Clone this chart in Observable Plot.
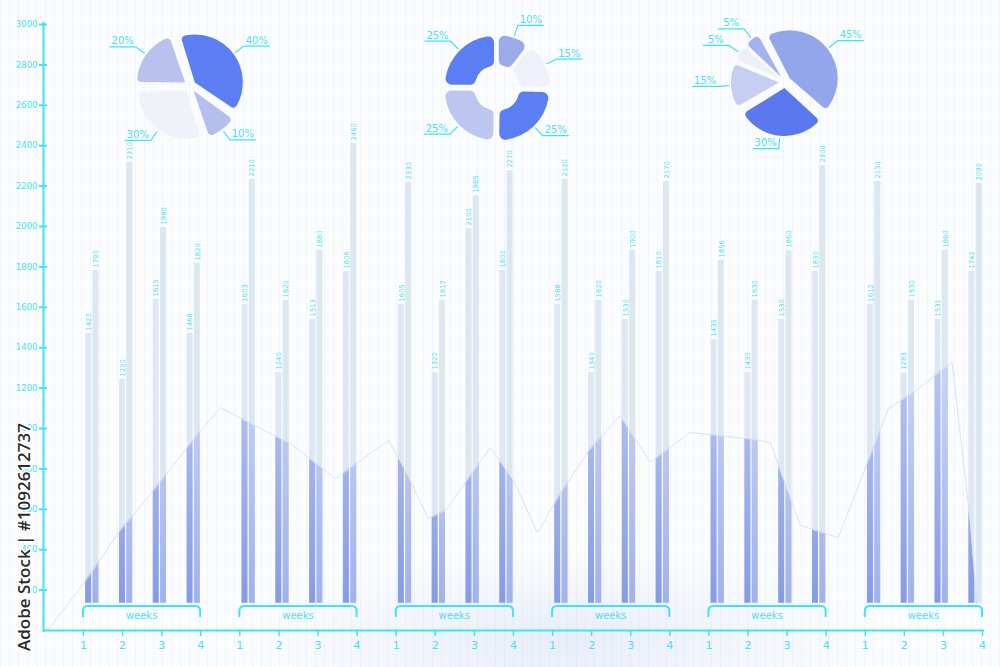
<!DOCTYPE html>
<html><head><meta charset="utf-8">
<script src="https://cdn.jsdelivr.net/npm/d3@7"></script>
<script src="https://cdn.jsdelivr.net/npm/@observablehq/plot@0.6"></script>
<style>
html,body{margin:0;padding:0;background:#fcfdfe;}
#chart{position:relative;width:1000px;height:667px;overflow:hidden;
  background-color:#fcfdfe;
  background-image:
    radial-gradient(ellipse 320px 90px at 560px 640px, rgba(196,208,240,0.35), rgba(255,255,255,0) 100%),
    repeating-linear-gradient(90deg, rgba(205,213,232,0.20) 0 1px, rgba(255,255,255,0) 1px 9px),
    repeating-linear-gradient(0deg, rgba(214,222,238,0.08) 0 1px, rgba(255,255,255,0) 1px 3px);
}
#chart svg{position:absolute;left:0;top:0;}
</style></head><body><div id="chart"></div>
<script>
// ---------------- data ----------------
const groups = ["G1","G2","G3","G4","G5","G6"];
const weekTicks = ["1","2","3","4"];
const yTicks = [200,400,600,800,1000,1200,1400,1600,1800,2000,2200,2400,2600,2800,3000];
// bar heights (two bars per week, 4 weeks per group)
const barHeights = [
  [1470,1782,1243,2317,1639,1995,1470,1817],
  [1614,2233,1277,1634,1540,1881,1777,2411],
  [1614,2218,1277,1634,1990,2153,1782,2277],
  [1614,2233,1277,1634,1540,1881,1777,2223],
  [1441,1832,1277,1634,1540,1881,1777,2302],
  [1614,2223,1277,1634,1540,1881,1777,2213]
];
// printed value labels above the bars
const barLabels = [
  ["1420","1790","1220","2310","1615","1980","1468","1820"],
  ["1603","2210","1240","1620","1513","1880","1806","2460"],
  ["1605","2330","1320","1617","2100","1985","1800","2270"],
  ["1588","2120","1340","1620","1530","1900","1810","2170"],
  ["1435","1856","1430","1630","1530","1860","1830","2300"],
  ["1612","2130","1283","1630","1531","1880","1742","2090"]
];
// background wave (x in week-slot units, y in axis units)
const waveX = [-0.92,0.10,0.90,1.79,2.94,3.50,4.27,5.29,6.45,7.80,8.24,8.82,9.26,10.41,11.00,11.61,12.28,12.89,13.73,14.50,15.52,17.14,17.57,18.34,19.31,19.95,20.59,21.23,22.22,22.69,22.86];
const waveY = [0,257,485,693,975,1104,1025,926,752,941,792,554,594,906,743,485,703,881,1064,832,980,946,931,520,460,777,1099,1178,1327,530,134];
// pies
const pie1Values = [40,10,30,20];
const pie1Labels = ["40%","10%","30%","20%"];
const pie2Values = [10,15,25,25,25];
const pie2Labels = ["10%","15%","25%","25%","25%"];
const pie3Values = [45,30,15,5,5];
const pie3Labels = ["45%","30%","15%","5%","5%"];

// ---------------- styles/layout ----------------
const cyan = "#41e3f0", textCyan = "#4cdeee";
const FONT = "DejaVu Sans";
const X0 = -1.023, X1 = 23.05, BASE = 135;

const bars = [];
groups.forEach((g, gi) => {
  for (let i = 0; i < 8; i++) {
    const p = Math.floor(i / 2), side = i % 2;
    const c = gi * 4 + 0.225 + p * 0.865;
    const x1 = side ? c + 0.017 : c - 0.17, x2 = side ? c + 0.17 : c - 0.017;
    bars.push({group: g, side, value: barHeights[gi][i], label: barLabels[gi][i], x1, x2, xc: (x1 + x2) / 2});
  }
});
const wave = waveX.map((x, i) => ({x, y: waveY[i]}));
const slots = d3.range(groups.length * weekTicks.length);

const chart = Plot.plot({
  width: 1000, height: 667,
  marginLeft: 43, marginRight: 16, marginTop: 24, marginBottom: 37,
  x: {domain: [X0, X1], axis: null},
  y: {domain: [0, 3000], axis: null},
  style: {background: "transparent", fontFamily: FONT, color: cyan, overflow: "visible"},
  marks: [
    Plot.rect(bars, {x1: "x1", x2: "x2", y1: BASE, y2: "value", fill: d => d.side ? "#dae5ee" : "#dde4f3", fillOpacity: 0.92}),
    Plot.rect(bars, {x1: "x1", x2: "x2", y1: BASE, y2: "value", fill: d => d.side ? "url(#gR)" : "url(#gL)"}),
    Plot.areaY(wave, {x: "x", y: "y", fill: "#ffffff", fillOpacity: 0}),
    Plot.line(wave, {x: "x", y: "y", stroke: "#dae1f4", strokeWidth: 1}),
    Plot.text(bars, {x: "xc", y: "value", text: "label", rotate: -90, textAnchor: "start", dy: -3,
      fontSize: 6.8, fill: textCyan}),
    Plot.ruleX([X0], {stroke: cyan, strokeWidth: 2, insetTop: -2, insetBottom: -2}),
    Plot.ruleY([0], {stroke: cyan, strokeWidth: 2}),
    Plot.axisY(yTicks, {tickSize: 8, tickPadding: 2, dx: 4, color: cyan, strokeWidth: 2,
      fontSize: 8.5, tickFormat: d => String(d), label: null}),
    Plot.axisX(slots, {tickSize: 6, tickPadding: 5, color: cyan, strokeWidth: 1.5,
      fontSize: 11, tickFormat: d => weekTicks[d % 4], label: null})
  ]
});
document.getElementById("chart").appendChild(chart);

// ---------------- post-processing (gradients, clip, brackets, pies) ----------------
const svg = d3.select(chart);
const xs = chart.scale("x"), ys = chart.scale("y");
const defs = svg.insert("defs", ":first-child");
function grad(id, c0, c1) {
  const g = defs.append("linearGradient").attr("id", id).attr("gradientUnits", "userSpaceOnUse")
    .attr("x1", 0).attr("x2", 0).attr("y1", ys.apply(1350)).attr("y2", ys.apply(BASE));
  g.append("stop").attr("offset", 0).attr("stop-color", c0);
  g.append("stop").attr("offset", 1).attr("stop-color", c1);
}
grad("gL", "#b9c7f2", "#849be6");
grad("gR", "#cad4f4", "#9fb2eb");

const areaPath = svg.select('g[aria-label="area"] path').attr("d");
defs.append("clipPath").attr("id", "waveClip").append("path").attr("d", areaPath);
const rectGroups = svg.selectAll('g[aria-label="rect"]').nodes();
d3.select(rectGroups[1]).attr("clip-path", "url(#waveClip)");

// week brackets
const y0px = ys.apply(0);
const br = svg.append("g");
groups.forEach((g, gi) => {
  const a = xs.apply(gi * 4), b = xs.apply(gi * 4 + 3);
  const yt = y0px - 24, yb = y0px - 13, r = 5;
  br.append("path")
    .attr("d", `M${a},${yb} L${a},${yt + r} Q${a},${yt} ${a + r},${yt} L${b - r},${yt} Q${b},${yt} ${b},${yt + r} L${b},${yb}`)
    .attr("fill", "none").attr("stroke", cyan).attr("stroke-width", 2);
  br.append("text").attr("x", (a + b) / 2).attr("y", y0px - 14)
    .attr("text-anchor", "middle").attr("dominant-baseline", "middle")
    .attr("font-family", FONT).attr("font-size", 10).attr("fill", textCyan).text("weeks");
});

function drawPie({cx, cy, r, inner, explode, start, values, labels, colors, pad}) {
  const pie = d3.pie().sort(null).value(d => d)
    .startAngle(start * Math.PI / 180).endAngle(start * Math.PI / 180 + 2 * Math.PI).padAngle(pad);
  const arc = d3.arc().innerRadius(inner).outerRadius(r).cornerRadius(inner ? 6 : 4);
  const g = svg.append("g");
  pie(values).forEach((a, i) => {
    const mid = (a.startAngle + a.endAngle) / 2;
    const sx = Math.sin(mid), sy = -Math.cos(mid);
    g.append("path").attr("d", arc(a))
      .attr("transform", `translate(${cx + explode * sx},${cy + explode * sy})`)
      .attr("fill", colors[i]);
    const p0 = [cx + (r + explode + 2) * sx, cy + (r + explode + 2) * sy];
    const p1 = [cx + (r + explode + 13) * sx, cy + (r + explode + 13) * sy];
    const dir = sx >= 0 ? 1 : -1;
    const p2 = [p1[0] + dir * 26, p1[1]];
    g.append("path").attr("d", `M${p0[0]},${p0[1]} L${p1[0]},${p1[1]} L${p2[0]},${p2[1]}`)
      .attr("fill", "none").attr("stroke", cyan).attr("stroke-width", 1.2);
    g.append("text").attr("x", (p1[0] + p2[0]) / 2).attr("y", p1[1] - 2.5)
      .attr("text-anchor", "middle").attr("font-family", FONT).attr("font-size", 10)
      .attr("fill", textCyan).text(labels[i]);
  });
}
drawPie({cx: 190, cy: 86, r: 48, inner: 0, explode: 6, start: -18, pad: 0.03,
  values: pie1Values, labels: pie1Labels, colors: ["#5b7ff2", "#b4bfee", "#f0f2fa", "#b8c2ec"]});
drawPie({cx: 497, cy: 88, r: 50, inner: 20, explode: 3, start: 0, pad: 0.03,
  values: pie2Values, labels: pie2Labels, colors: ["#9aabec", "#eef1fa", "#5b7ff2", "#bcc6ee", "#5b7ff2"]});
drawPie({cx: 785, cy: 82, r: 48, inner: 0, explode: 6, start: -28, pad: 0.03,
  values: pie3Values, labels: pie3Labels, colors: ["#93a6ec", "#5b78ee", "#c6cef1", "#eef0f9", "#a4b3ed"]});

// stock id text on the left edge
svg.append("text").attr("x", 0).attr("y", 0)
  .attr("transform", "translate(23,537) rotate(-90)")
  .attr("text-anchor", "middle").attr("dominant-baseline", "central")
  .attr("font-family", "Open Sans").attr("font-size", 17).attr("font-weight", 600)
  .attr("fill", "#2b2b2b").attr("stroke", "#ffffff").attr("stroke-width", 3)
  .attr("paint-order", "stroke").text("Adobe Stock | #1092612737");
</script></body></html>
